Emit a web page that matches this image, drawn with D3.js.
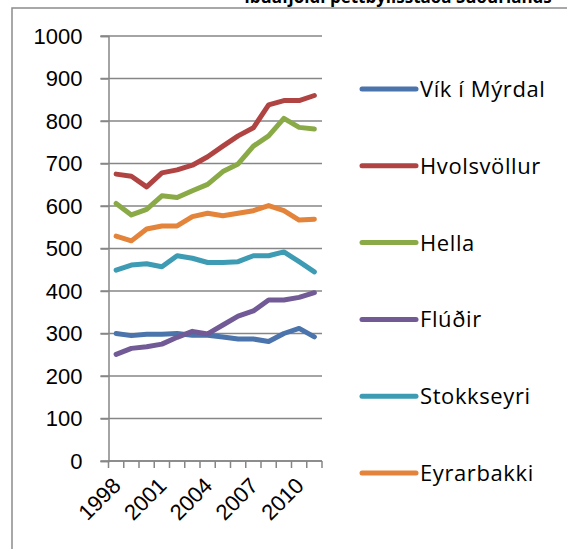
<!DOCTYPE html>
<html lang="is">
<head>
<meta charset="utf-8">
<title>Íbúafjöldi</title>
<style>
  body { margin: 0; background: #fff; }
  text { font-family: "Open Sans", "Liberation Sans", sans-serif; fill: #000; }
</style>
</head>
<body>
<svg width="567" height="549"></svg>
<script src="https://d3js.org/d3.v7.min.js"></script>
<script>
var years = [1998, 1999, 2000, 2001, 2002, 2003, 2004, 2005, 2006, 2007, 2008, 2009, 2010, 2011];
var yearLabels = [1998, 2001, 2004, 2007, 2010];
var yTicks = [0, 100, 200, 300, 400, 500, 600, 700, 800, 900, 1000];

var names = ["Vík í Mýrdal", "Hvolsvöllur", "Hella", "Flúðir", "Stokkseyri", "Eyrarbakki"];
var colors = ["#4a74ab", "#b04443", "#8aaa48", "#715a95", "#3e9bb4", "#e3843a"];

var vik        = [300, 295, 298, 298, 300, 296, 296, 292, 287, 287, 281, 300, 312, 292];
var hvolsvollur = [675, 670, 645, 678, 685, 696, 716, 741, 765, 784, 838, 848, 848, 860];
var hella      = [606, 579, 592, 624, 620, 636, 651, 681, 699, 741, 765, 806, 785, 781];
var fludir     = [251, 265, 269, 275, 291, 305, 299, 320, 341, 353, 379, 379, 385, 396];
var stokkseyri = [449, 461, 464, 457, 483, 477, 467, 467, 469, 483, 483, 492, 469, 445];
var eyrarbakki = [529, 518, 546, 553, 553, 575, 583, 577, 583, 589, 601, 589, 567, 569];

var series = [vik, hvolsvollur, hella, fludir, stokkseyri, eyrarbakki];

var svg = d3.select("svg");

// outer chart border (cut off on right and bottom)
svg.append("rect")
    .attr("x", 12).attr("y", 8)
    .attr("width", 600).attr("height", 600)
    .attr("fill", "none")
    .attr("stroke", "#8c8c8c")
    .attr("stroke-width", 1.5);

// title, mostly cut off at the top
svg.append("text")
    .attr("x", 398).attr("y", 3)
    .attr("text-anchor", "middle")
    .style("font-size", "17px")
    .style("font-weight", "bold")
    .text("Íbúafjöldi þéttbýlisstaða Suðurlands");

var plotL = 108.5, plotR = 322, plotT = 36, plotB = 461;

var x = d3.scaleBand().domain(years).range([plotL, plotR]);
var y = d3.scaleLinear().domain([0, 1000]).range([plotB, plotT]);

// gridlines
svg.append("g")
  .selectAll("line")
  .data(yTicks)
  .enter().append("line")
    .attr("x1", plotL - 8).attr("x2", plotR)
    .attr("y1", function(d) { return y(d); })
    .attr("y2", function(d) { return y(d); })
    .attr("stroke", "#868686")
    .attr("stroke-width", 1.5);

// y axis
var yAxis = svg.append("g")
    .attr("transform", "translate(" + plotL + ",0)")
    .call(d3.axisLeft(y).tickValues(yTicks).tickFormat(d3.format("d")).tickSize(8).tickPadding(18));
yAxis.select(".domain").attr("stroke", "#868686").attr("stroke-width", 1.5);
yAxis.selectAll(".tick line").attr("stroke", "#868686").attr("stroke-width", 1.5);
yAxis.selectAll(".tick text")
    .attr("fill", "#000")
    .style("font-family", "'Liberation Sans', Arial, sans-serif")
    .style("font-size", "22px");

// x axis: tick marks at band edges
var xAxisG = svg.append("g");
xAxisG.append("line")
    .attr("x1", plotL).attr("x2", plotR)
    .attr("y1", plotB).attr("y2", plotB)
    .attr("stroke", "#868686").attr("stroke-width", 1.5);
xAxisG.selectAll("line.tk")
    .data(years.concat(["end"]))
  .enter().append("line")
    .attr("class", "tk")
    .attr("x1", function(d, i) { return i < years.length ? x(d) : plotR; })
    .attr("x2", function(d, i) { return i < years.length ? x(d) : plotR; })
    .attr("y1", plotB).attr("y2", plotB + 7)
    .attr("stroke", "#868686").attr("stroke-width", 1.5);

xAxisG.selectAll("text")
    .data(yearLabels)
  .enter().append("text")
    .attr("transform", function(d) {
      return "translate(" + (x(d) + x.bandwidth() / 2 + 6) + "," + (plotB + 26) + ") rotate(-45)";
    })
    .attr("text-anchor", "end")
    .style("font-family", "'Liberation Sans', Arial, sans-serif")
    .style("font-size", "22px")
    .text(function(d) { return d; });

// lines
var line = d3.line()
    .x(function(d, i) { return x(years[i]) + x.bandwidth() / 2; })
    .y(function(d) { return y(d); });

svg.append("g")
  .selectAll("path")
  .data(series)
  .enter().append("path")
    .attr("fill", "none")
    .attr("stroke", function(d, i) { return colors[i]; })
    .attr("stroke-width", 5)
    .attr("stroke-linejoin", "round")
    .attr("stroke-linecap", "round")
    .attr("d", line);

// legend
var legend = svg.append("g")
  .selectAll("g")
  .data(names)
  .enter().append("g")
    .attr("transform", function(d, i) { return "translate(362," + (89 + i * 76.8) + ")"; });

legend.append("line")
    .attr("x1", 0).attr("x2", 54)
    .attr("stroke", function(d, i) { return colors[i]; })
    .attr("stroke-width", 5)
    .attr("stroke-linecap", "round");

legend.append("text")
    .attr("x", 58)
    .attr("dy", "0.36em")
    .style("font-size", "22px")
    .style("letter-spacing", "0.6px")
    .text(function(d) { return d; });
</script>
</body>
</html>
